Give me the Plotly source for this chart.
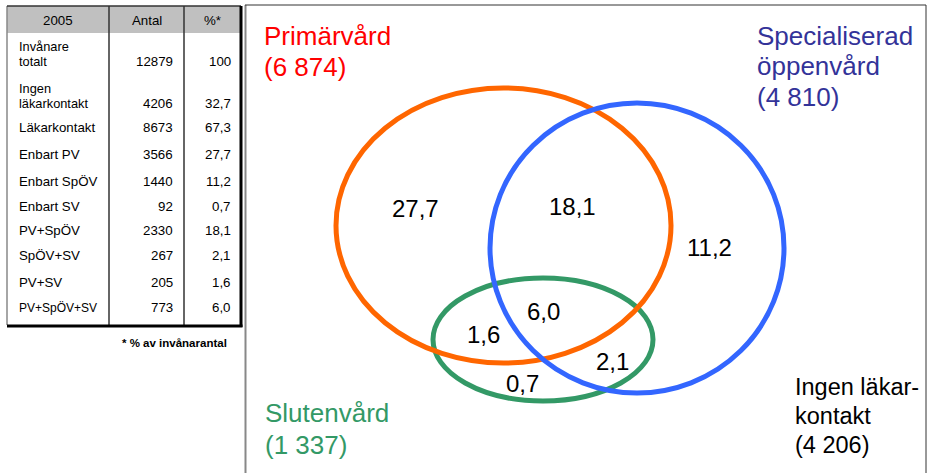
import plotly.graph_objects as go

# ---------------- data ----------------
table_year = "2005"
table_cols = ["Antal", "%*"]
row_labels = ["Invånare\ntotalt", "Ingen\nläkarkontakt", "Läkarkontakt", "Enbart PV",
              "Enbart SpÖV", "Enbart SV", "PV+SpÖV", "SpÖV+SV", "PV+SV", "PV+SpÖV+SV"]
row_antal = [12879, 4206, 8673, 3566, 1440, 92, 2330, 267, 205, 773]
row_pct = [100, 32.7, 67.3, 27.7, 11.2, 0.7, 18.1, 2.1, 1.6, 6.0]
footnote = "* % av invånarantal"

set_names = ["Primärvård", "Specialiserad\nöppenvård", "Slutenvård", "Ingen läkar-\nkontakt"]
set_counts = [6874, 4810, 1337, 4206]
region_pct = [27.7, 18.1, 11.2, 6.0, 1.6, 2.1, 0.7]  # PV, PV+SpÖV, SpÖV, all, PV+SV, SpÖV+SV, SV

# ---------------- layout / style ----------------
FONT = "Liberation Sans, Arial, sans-serif"
row_y = [61, 103, 127.5, 154, 181, 206, 230, 255, 282.5, 307.5]
line_gap = 14.5
tbl_left, tbl_right, col1, col2 = 7, 241, 109, 184
tbl_top, hdr_bot, tbl_bot = 6, 33, 325

label_pos = [(262, [35.5, 66.5]), (755, [35.5, 66, 97]), (263, [413, 444.5]), (793, [387, 416, 444.5])]
label_col = ["#FF0000", "#333399", "#339966", "#000000"]
label_size = [26, 26, 26, 23.5]
region_xy = [(415, 208), (572, 206), (709, 247), (543, 311), (483, 334), (612, 361), (522, 383)]

ellipses = [  # drawn order: green, orange, blue
    dict(box=(433, 278, 653, 401), color="#339966"),
    dict(box=(336, 88, 671, 363), color="#FF6600"),
    dict(box=(490, 103, 784, 393), color="#3366FF"),
]


def fmt_dec(v):
    return "100" if v >= 100 else f"{v:.1f}".replace(".", ",")


def fmt_count(n):
    return f"({n:,})".replace(",", " ")


fig = go.Figure()
shapes = []
ann = []

# table
shapes.append(dict(type="rect", x0=tbl_left, x1=tbl_right, y0=tbl_top, y1=hdr_bot,
                   fillcolor="#C0C0C0", line=dict(width=0), layer="below"))
shapes.append(dict(type="line", x0=tbl_left, x1=tbl_left, y0=tbl_top, y1=tbl_bot, line=dict(color="#888888", width=1.5)))
shapes.append(dict(type="line", x0=tbl_left, x1=tbl_right, y0=tbl_top, y1=tbl_top, line=dict(color="#333333", width=1.5)))
for cx in (col1, col2):
    shapes.append(dict(type="line", x0=cx, x1=cx, y0=tbl_top, y1=tbl_bot, line=dict(color="#333333", width=1.5)))
shapes.append(dict(type="line", x0=tbl_right, x1=tbl_right, y0=tbl_top, y1=tbl_bot + 2, line=dict(color="#000000", width=3)))
shapes.append(dict(type="line", x0=tbl_left, x1=tbl_right + 1.5, y0=tbl_bot + 1, y1=tbl_bot + 1, line=dict(color="#000000", width=3)))

hdr_y = 20
for txt, x in [(table_year, (tbl_left + col1) / 2), (table_cols[0], (col1 + col2) / 2), (table_cols[1], (col2 + tbl_right) / 2)]:
    ann.append(dict(x=x, y=hdr_y, text=txt, xanchor="center", yanchor="middle",
                    font=dict(family=FONT, size=13.3, color="#000")))

for i, (lab, a, p) in enumerate(zip(row_labels, row_antal, row_pct)):
    y = row_y[i]
    lines = lab.split("\n")
    size = 12 if i == len(row_labels) - 1 else (12.8 if len(lines) > 1 else 13.3)
    for j, ln in enumerate(lines):
        ly = y - line_gap * (len(lines) - 1 - j)
        ann.append(dict(x=17, y=ly, text=ln, xanchor="left", yanchor="middle",
                        font=dict(family=FONT, size=size, color="#000")))
    ann.append(dict(x=175, y=y, text=str(a), xanchor="right", yanchor="middle",
                    font=dict(family=FONT, size=13.3, color="#000")))
    ann.append(dict(x=233, y=y, text=fmt_dec(p), xanchor="right", yanchor="middle",
                    font=dict(family=FONT, size=13.3, color="#000")))

ann.append(dict(x=229, y=343, text="<b>" + footnote + "</b>", xanchor="right", yanchor="middle",
                font=dict(family=FONT, size=11.5, color="#000")))

# panel frame
shapes.append(dict(type="line", x0=245.5, x1=245.5, y0=5, y1=480, line=dict(color="#888888", width=2)))
shapes.append(dict(type="line", x0=245, x1=926, y0=5, y1=5, line=dict(color="#333333", width=1)))
shapes.append(dict(type="line", x0=926, x1=926, y0=5, y1=480, line=dict(color="#333333", width=1)))

# ellipses
for e in ellipses:
    x0, y0, x1, y1 = e["box"]
    shapes.append(dict(type="circle", x0=x0, y0=y0, x1=x1, y1=y1, line=dict(color=e["color"], width=5)))

# set labels
for name, cnt, (lx, ys), col, sz in zip(set_names, set_counts, label_pos, label_col, label_size):
    lines = name.split("\n") + [fmt_count(cnt)]
    for ln, y in zip(lines, ys):
        ann.append(dict(x=lx, y=y, text=ln, xanchor="left", yanchor="middle",
                        font=dict(family=FONT, size=sz, color=col)))

# region values
for v, (x, y) in zip(region_pct, region_xy):
    ann.append(dict(x=x, y=y, text=fmt_dec(v), xanchor="center", yanchor="middle",
                    font=dict(family=FONT, size=24, color="#000")))

for a in ann:
    a.update(showarrow=False, xref="x", yref="y")

fig.update_layout(
    width=930, height=473, margin=dict(l=0, r=0, t=0, b=0),
    paper_bgcolor="white", plot_bgcolor="white",
    xaxis=dict(range=[0, 930], visible=False, fixedrange=True),
    yaxis=dict(range=[473, 0], visible=False, fixedrange=True),
    shapes=shapes, annotations=ann, showlegend=False,
)
fig.write_html("out.html", config={"displayModeBar": False, "staticPlot": True},
               post_script="document.body.style.margin='0';document.body.style.overflow='hidden';")
